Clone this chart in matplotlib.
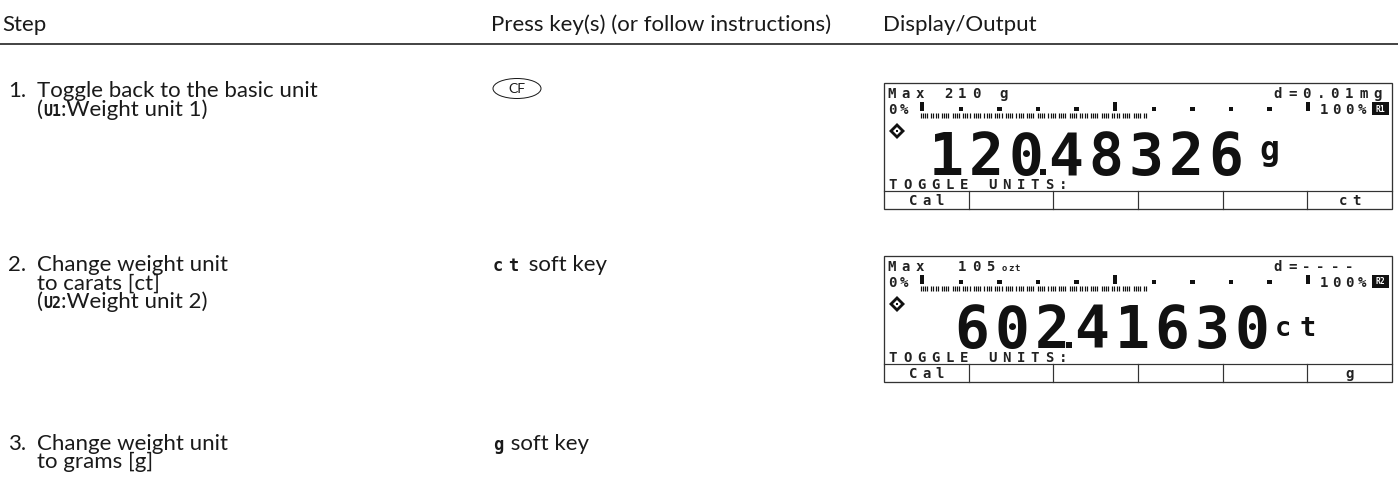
import matplotlib
matplotlib.use("Agg")
import matplotlib.pyplot as plt
from matplotlib.patches import Rectangle, Ellipse, Polygon
from matplotlib import font_manager as fm

# ---------------- data ----------------
headers = ["Step", "Press key(s) (or follow instructions)", "Display/Output"]
step_numbers = ["1.", "2.", "3."]
step_lines = [
    [[("Toggle back to the basic unit", "body")],
     [("(", "body"), ("U1", "lcd"), (":Weight unit 1)", "body")]],
    [[("Change weight unit", "body")],
     [("to carats [ct]", "body")],
     [("(", "body"), ("U2", "lcd"), (":Weight unit 2)", "body")]],
    [[("Change weight unit", "body")],
     [("to grams [g]", "body")]],
]
key_labels = ["CF", "ct", "g"]          # key / soft key glyph
key_suffix = ["", " soft key", " soft key"]

disp_max_value = ["210", "105"]
disp_max_unit = ["g", "ozt"]
disp_resolution = ["d=0.01mg", "d=----"]
disp_reading = ["120.48326", "602.41630"]
disp_reading_unit = ["g", "ct"]
disp_range = ["R1", "R2"]
disp_bar_fill = [0.585, 0.585]
disp_prompt = ["TOGGLE UNITS:", "TOGGLE UNITS:"]
disp_softkeys = [["Cal", "", "", "", "", "ct"], ["Cal", "", "", "", "", "g"]]

# ---------------- layout ----------------
W, H = 1398, 501
fig = plt.figure(figsize=(W / 100, H / 100), dpi=100)
ax = fig.add_axes([0, 0, 1, 1])
ax.set_xlim(0, W)
ax.set_ylim(H, 0)
ax.axis("off")
PT = 0.72  # points per pixel


def pick(names):
    for n in names:
        try:
            fm.findfont(fm.FontProperties(family=n), fallback_to_default=False)
            return n
        except Exception:
            pass
    return "DejaVu Sans"


BODY = pick(["Lato", "Open Sans", "DejaVu Sans"])
NARROW = pick(["Liberation Sans Narrow", "Lato", "DejaVu Sans"])
MONO = "DejaVu Sans Mono"
INK = "#1a1a1a"
LCDINK = "#222222"

fig.canvas.draw()
R = fig.canvas.get_renderer()
_t = ax.text(0, 0, "Toggle back to the basic unit", fontsize=10, family=BODY)
BODY_FS = 10 * 281 / _t.get_window_extent(R).width
_t.remove()

styles = {
    "body": dict(fontsize=BODY_FS, family=BODY, color=INK),
    "lcd": dict(fontsize=15 * PT, family=MONO, weight="bold", color=INK),
}


def chain(x, y, parts):
    for s, st in parts:
        t = ax.text(x, y, s, va="baseline", ha="left", **styles[st])
        x += t.get_window_extent(R).width


# header
header_x = [2, 491, 883]
for hx, s in zip(header_x, headers):
    ax.text(hx, 31, s, va="baseline", ha="left", **styles["body"])
ax.plot([0, W], [44, 44], color=INK, lw=1.6 * PT, solid_capstyle="butt")

# steps
step_y = [97, 271, 450]
line_gap = 18.5
for num, lines, y0 in zip(step_numbers, step_lines, step_y):
    ax.text(8, y0, num, va="baseline", ha="left", **styles["body"])
    for j, parts in enumerate(lines):
        chain(37, y0 + j * line_gap, parts)

# key column
for i, (lab, suf, y0) in enumerate(zip(key_labels, key_suffix, step_y)):
    if i == 0:
        ax.add_patch(Ellipse((517, y0 - 8.5), 48, 20, fill=False, ec=INK, lw=1.0 * PT))
        ax.text(517, y0 - 8, lab, ha="center", va="center", family=NARROW,
                fontsize=14 * PT, color=INK)
    else:
        x = 493
        pitch = 15 if len(lab) > 1 else 0
        for k, ch in enumerate(lab):
            ax.text(x + k * pitch, y0, ch, ha="left", va="baseline", family=MONO,
                    weight="bold", fontsize=17 * PT, color=INK)
        xs = x + len(lab) * (15 if len(lab) > 1 else 12)
        ax.text(xs, y0, suf, ha="left", va="baseline", **styles["body"])

# ---------------- LCD displays ----------------
L, Rr = 884, 1392
DH = 126
disp_top = [83, 256]
SMALL = 14 * PT


def lcd(x0, y, s, pitch, size=SMALL, color=LCDINK, weight="bold", **kw):
    for i, ch in enumerate(s):
        if ch != " ":
            ax.text(x0 + i * pitch, y, ch, ha="center", va="baseline", family=MONO,
                    fontsize=size, color=color, weight=weight, **kw)


for d in range(2):
    T = disp_top[d]
    ax.add_patch(Rectangle((L, T), Rr - L, DH, fill=False, ec="#333333", lw=1.3 * PT))
    # max row
    lcd(L + 8, T + 15, "Max", 14)
    if d == 0:
        lcd(L + 64, T + 15, disp_max_value[d], 14)
        lcd(L + 120, T + 15, disp_max_unit[d], 14)
    else:
        lcd(L + 78, T + 15, disp_max_value[d], 14)
        lcd(L + 120, T + 15, disp_max_unit[d], 6.5, size=9 * PT)
    lcd(1278, T + 15, disp_resolution[d], 14.2)
    # bar graph row
    lcd(L + 8, T + 31, "0%", 12)
    lcd(1324, T + 31, "100%", 12.5)
    ax.add_patch(Rectangle((1372, T + 19), 17, 13, color="#111111", lw=0))
    ax.text(1380.5, T + 26, disp_range[d], ha="center", va="center", color="white",
            family=MONO, weight="bold", fontsize=8 * PT)
    bx0, bx1 = 920, 1306
    for k in range(11):
        xk = bx0 + k * (bx1 - bx0) / 10
        if k % 5 == 0:
            ax.add_patch(Rectangle((xk, T + 19), 3.5, 8.5, color="#111111", lw=0))
        else:
            ax.add_patch(Rectangle((xk, T + 24), 4.4, 4, color="#111111", lw=0))
    fx1 = bx0 + disp_bar_fill[d] * (bx1 - bx0)
    # fill bar made of thin LCD columns with periodic gaps
    xs_bar = []
    gx, n = bx0, 0
    while gx < fx1:
        if n % 5 != 4:
            xs_bar.append(gx + 0.6)
        gx += 2.13
        n += 1
    ax.vlines(xs_bar, T + 30, T + 34.5, color="#111111", lw=1.2 * PT)
    # stability diamond
    cx, cy = L + 13, T + 48
    ax.add_patch(Polygon([(cx - 8, cy), (cx, cy - 8), (cx + 8, cy), (cx, cy + 8)], color="#111111", lw=0))
    ax.add_patch(Polygon([(cx - 4, cy), (cx, cy - 4), (cx + 4, cy), (cx, cy + 4)], color="white", lw=0))
    ax.add_patch(Rectangle((cx - 1.2, cy - 1.2), 2.4, 2.4, color="#111111", lw=0))
    # reading (digits as text, decimal point as a display segment)
    x0 = 946 if d == 0 else 972
    base = T + 92
    k = 0
    for ch in disp_reading[d]:
        if ch == ".":
            ax.add_patch(Rectangle((x0 + (k - 1) * 40 + 14, base - 6), 6, 6, color="#111111", lw=0))
            continue
        ax.text(x0 + k * 40, base, ch, ha="center", va="baseline", family=MONO,
                weight="bold", fontsize=58 * PT, color="#111111")
        k += 1
    if d == 0:
        ax.text(1269, T + 77, disp_reading_unit[d], ha="center", va="baseline",
                family=MONO, weight="bold", fontsize=33 * PT, color="#111111")
    else:
        lcd(1283, T + 80, disp_reading_unit[d], 25, size=27 * PT, weight="bold",
            color="#111111")
    # prompt
    lcd(L + 9, T + 106, disp_prompt[d], 14.2)
    # soft key row
    ax.plot([L, Rr], [T + 108, T + 108], color="#333333", lw=1.2 * PT)
    cw = (Rr - L) / 6
    for k in range(1, 6):
        ax.plot([L + k * cw] * 2, [T + 108, T + DH], color="#333333", lw=1.2 * PT)
    for k, lab in enumerate(disp_softkeys[d]):
        if lab:
            c = L + (k + 0.5) * cw
            n = len(lab)
            lcd(c - (n - 1) / 2 * 13, T + 122, lab, 13)

fig.savefig("out.png", dpi=100)
